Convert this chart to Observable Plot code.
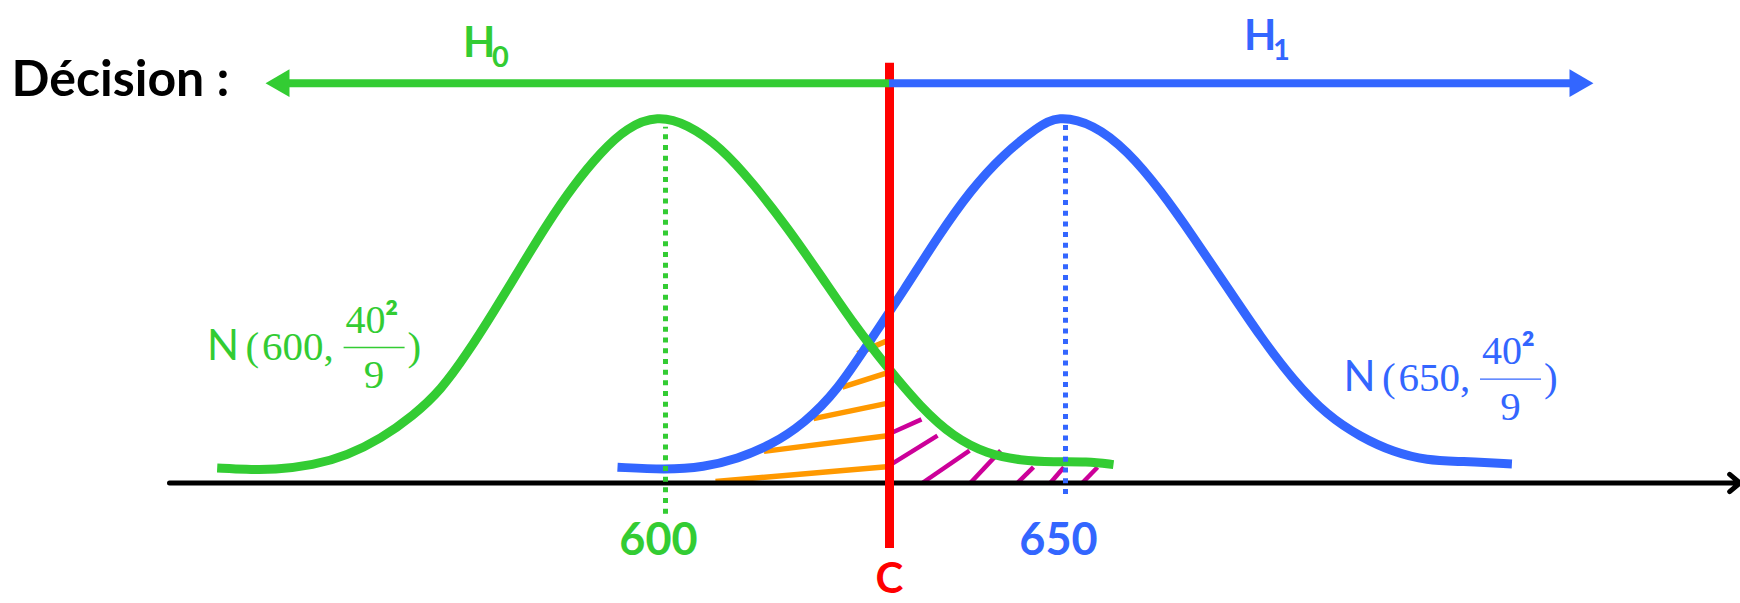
<!DOCTYPE html>
<html>
<head>
<meta charset="utf-8">
<script src="https://cdn.jsdelivr.net/npm/d3@7"></script>
<script src="https://cdn.jsdelivr.net/npm/@observablehq/plot@0.6"></script>
<style>
  html, body { margin: 0; padding: 0; background: #fff; overflow: hidden; }
  #chart svg { display: block; }
</style>
</head>
<body>
<div id="chart"></div>
<script>
// Test of H0: mean 600 against H1: mean 650, both N(mu, 40²/9), threshold C.

// Means and decision threshold
const means = [600, 650];
const meanLabels = ["600", "650"];
const threshold = 628;
const thresholdLabel = "C";

// Sketched density curves (height in % of the peak)
const h0X = [543.96, 547.7, 551.0, 556.0, 560.2, 564.4, 568.5, 571.9, 575.2, 578.5, 581.9, 585.2, 588.5, 591.9, 595.2, 599.0, 602.7, 606.9, 611.0, 615.2, 619.4, 623.5, 627.7, 631.9, 636.0, 640.2, 644.4, 648.5, 652.7, 656.0];
const h0Y = [4.1, 3.7, 3.6, 4.8, 7.5, 12.0, 18.4, 25.2, 35.2, 46.5, 58.7, 70.5, 81.0, 90.0, 96.8, 100, 97.7, 91.4, 81.4, 69.6, 56.5, 43.3, 31.5, 20.6, 12.5, 7.9, 6.1, 5.7, 5.9, 5.0];
const h1X = [594.0, 600.0, 604.8, 609.0, 613.1, 617.3, 621.5, 625.6, 629.8, 634.0, 638.1, 642.3, 646.5, 649.0, 653.5, 657.7, 661.9, 666.0, 670.2, 674.4, 678.5, 682.7, 686.9, 691.0, 695.2, 699.4, 705.8];
const h1Y = [4.3, 3.6, 4.3, 6.6, 10.2, 16.1, 25.2, 38.8, 52.4, 66.9, 79.6, 89.6, 96.8, 100, 97.7, 90.5, 79.6, 66.9, 53.3, 39.7, 27.9, 18.4, 12.5, 8.4, 6.1, 5.9, 5.2];

// Hatching of the beta area (under H1, left of C)
const betaX1 = [606.25, 612.3, 618.5, 622.1, 624.0];
const betaY1 = [0.4, 8.6, 17.5, 26.1, 35.2];
const betaX2 = [628, 628, 628, 628, 628];
const betaY2 = [4.5, 12.9, 21.8, 30.2, 39.0];

// Hatching of the alpha area (under H0, right of C)
const alphaX1 = [628, 628, 632.1, 638.1, 644.0, 648.1, 652.1];
const alphaY1 = [13.4, 4.8, 0, 0, 0, 0, 0];
const alphaX2 = [632.0, 634.0, 638.0, 641.9, 646.0, 649.8, 654.0];
const alphaY2 = [17.3, 12.9, 8.8, 8.8, 4.3, 4.3, 4.3];

// Mean guide lines (bottom, top)
const guideBottom = [-8.5, -3.1];
const guideTop = [96.8, 97.3];

// Decision arrows: shaft level, tips, threshold bar extent
const decisionLevel = 108.8;
const decisionTips = [550, 716];
const decisionNames = ["H", "H"];
const decisionSubs = ["0", "1"];
const decisionNameX = [574.7, 672.3];
const decisionNameY = [115.8, 117.7];
const thresholdTop = 114.2;
const thresholdBottom = -17.8;
const decisionTitle = "Décision :";
const decisionTitleX = 518.25;
const decisionTitleY = 105.4;

// Axis extent
const axisStart = 538.0;
const axisEnd = 734.3;

// Distribution labels N(mean, 40²/9)
const distMeanText = ["600,", "650,"];
const distNumerator = "40";
const distExponent = "²";
const distDenominator = "9";
const distLabelX = [542.7, 684.75];
const distLabelY = [33.6, 25.0];

// Scales
const W = 1740, H = 603;
const xDomain = [516.875, 734.375];
const yDomain = [-32.79, 131.29];
const pxPerX = W / (xDomain[1] - xDomain[0]);

const green = "#33cc33", blue = "#3366ff", red = "#ff0000", orange = "#ff9900", magenta = "#cc0099";
const colors = [green, blue];
const sansBold = "Lato, 'Open Sans', sans-serif";
const serif = "'Liberation Serif', 'DejaVu Serif', serif";

const h0 = h0X.map((x, i) => ({x, y: h0Y[i]}));
const h1 = h1X.map((x, i) => ({x, y: h1Y[i]}));
const beta = betaX1.map((x1, i) => ({x1, y1: betaY1[i], x2: betaX2[i], y2: betaY2[i]}));
const alpha = alphaX1.map((x1, i) => ({x1, y1: alphaY1[i], x2: alphaX2[i], y2: alphaY2[i]}));
const guides = means.map((m, i) => ({x: m, y1: guideBottom[i], y2: guideTop[i], color: colors[i], label: meanLabels[i]}));
const headOffset = 16 / pxPerX; // distance from tip to arrowhead centroid
const shafts = decisionTips.map((tip, i) => ({
  x1: threshold,
  x2: tip + (tip < threshold ? headOffset : -headOffset),
  tip,
  color: colors[i],
  rotate: tip < threshold ? -90 : 90,
  name: decisionNames[i], sub: decisionSubs[i],
  nx: decisionNameX[i], ny: decisionNameY[i]
}));
const labels = distLabelX.map((x, i) => ({x, y: distLabelY[i], mean: distMeanText[i], color: colors[i]}));

const labelPart = (text, dx, dy, opts) =>
  Plot.text(labels, {x: "x", y: "y", text: typeof text === "function" ? text : () => text,
    fill: "color", dx, dy, lineAnchor: "bottom", textAnchor: "start", ...opts});

const chart = Plot.plot({
  width: W,
  height: H,
  margin: 0,
  x: {domain: xDomain, axis: null},
  y: {domain: yDomain, axis: null},
  style: {background: "#fff"},
  marks: [
    // hatching
    Plot.link(beta, {x1: "x1", y1: "y1", x2: "x2", y2: "y2", stroke: orange, strokeWidth: 5.5}),
    Plot.link(alpha, {x1: "x1", y1: "y1", x2: "x2", y2: "y2", stroke: magenta, strokeWidth: 4.5}),
    // horizontal axis
    Plot.arrow([0], {x1: () => axisStart, x2: () => axisEnd, y1: () => 0, y2: () => 0,
      stroke: "#000", strokeWidth: 5, headLength: 4, headAngle: 80}),
    // densities
    Plot.line(h1, {x: "x", y: "y", stroke: blue, strokeWidth: 9, curve: "basis", strokeLinecap: "butt"}),
    Plot.line(h0, {x: "x", y: "y", stroke: green, strokeWidth: 9, curve: "basis", strokeLinecap: "butt"}),
    // mean guides
    Plot.ruleX(guides, {x: "x", y1: "y1", y2: "y2", stroke: "color", strokeWidth: 5, strokeDasharray: "5 5.7"}),
    // threshold
    Plot.ruleX([threshold], {y1: thresholdBottom, y2: thresholdTop, stroke: red, strokeWidth: 9}),
    // decision arrows
    Plot.ruleY(shafts, {x1: "x1", x2: "x2", y: () => decisionLevel, stroke: "color", strokeWidth: 8}),
    Plot.dot(shafts.filter(d => d.rotate < 0), {x: "tip", y: () => decisionLevel, symbol: "triangle2", r: 13.2,
      rotate: -90, fill: "color", dx: 16}),
    Plot.dot(shafts.filter(d => d.rotate > 0), {x: "tip", y: () => decisionLevel, symbol: "triangle2", r: 13.2,
      rotate: 90, fill: "color", dx: -16}),
    Plot.text(shafts, {x: "nx", y: "ny", text: "name", fill: "color", fontFamily: sansBold, fontWeight: "bold",
      fontSize: 42, textAnchor: "start", lineAnchor: "bottom"}),
    Plot.text(shafts, {x: "nx", y: "ny", text: "sub", fill: "color", fontFamily: sansBold, fontWeight: "bold",
      fontSize: 29, textAnchor: "start", lineAnchor: "bottom", dx: 29, dy: 10}),
    Plot.text([decisionTitle], {x: () => decisionTitleX, y: () => decisionTitleY, text: d => d, fill: "#000",
      fontFamily: sansBold, fontWeight: "bold", fontSize: 50, textAnchor: "start", lineAnchor: "bottom"}),
    // tick labels and threshold label
    Plot.text(guides, {x: "x", y: () => -19.7, text: "label", fill: "color", fontFamily: sansBold,
      fontWeight: "bold", fontSize: 45, textAnchor: "middle", lineAnchor: "bottom", dx: -7}),
    Plot.text([thresholdLabel], {x: () => threshold, y: () => -30.0, text: d => d, fill: red, fontFamily: sansBold,
      fontWeight: "bold", fontSize: 42, textAnchor: "middle", lineAnchor: "bottom"}),
    // distribution labels
    labelPart("N", 0, 0, {fontFamily: "Lato, sans-serif", fontSize: 42}),
    labelPart("(", 38.5, 0, {fontFamily: serif, fontSize: 41}),
    labelPart(d => d.mean, 55, 0, {fontFamily: serif, fontSize: 41}),
    labelPart(distNumerator, 138.5, -27, {fontFamily: serif, fontSize: 40}),
    labelPart(distExponent, 178, -27, {fontFamily: sansBold, fontWeight: "bold", fontSize: 40}),
    labelPart(distDenominator, 167, 28.5, {fontFamily: serif, fontSize: 41, textAnchor: "middle"}),
    labelPart(")", 200.5, 0, {fontFamily: serif, fontSize: 41}),
    Plot.ruleY(labels, {x1: d => d.x + 137 / pxPerX, x2: d => d.x + 198 / pxPerX, y: "y", dy: -12,
      stroke: "color", strokeWidth: 1.3})
  ]
});
document.getElementById("chart").appendChild(chart);
</script>
</body>
</html>
